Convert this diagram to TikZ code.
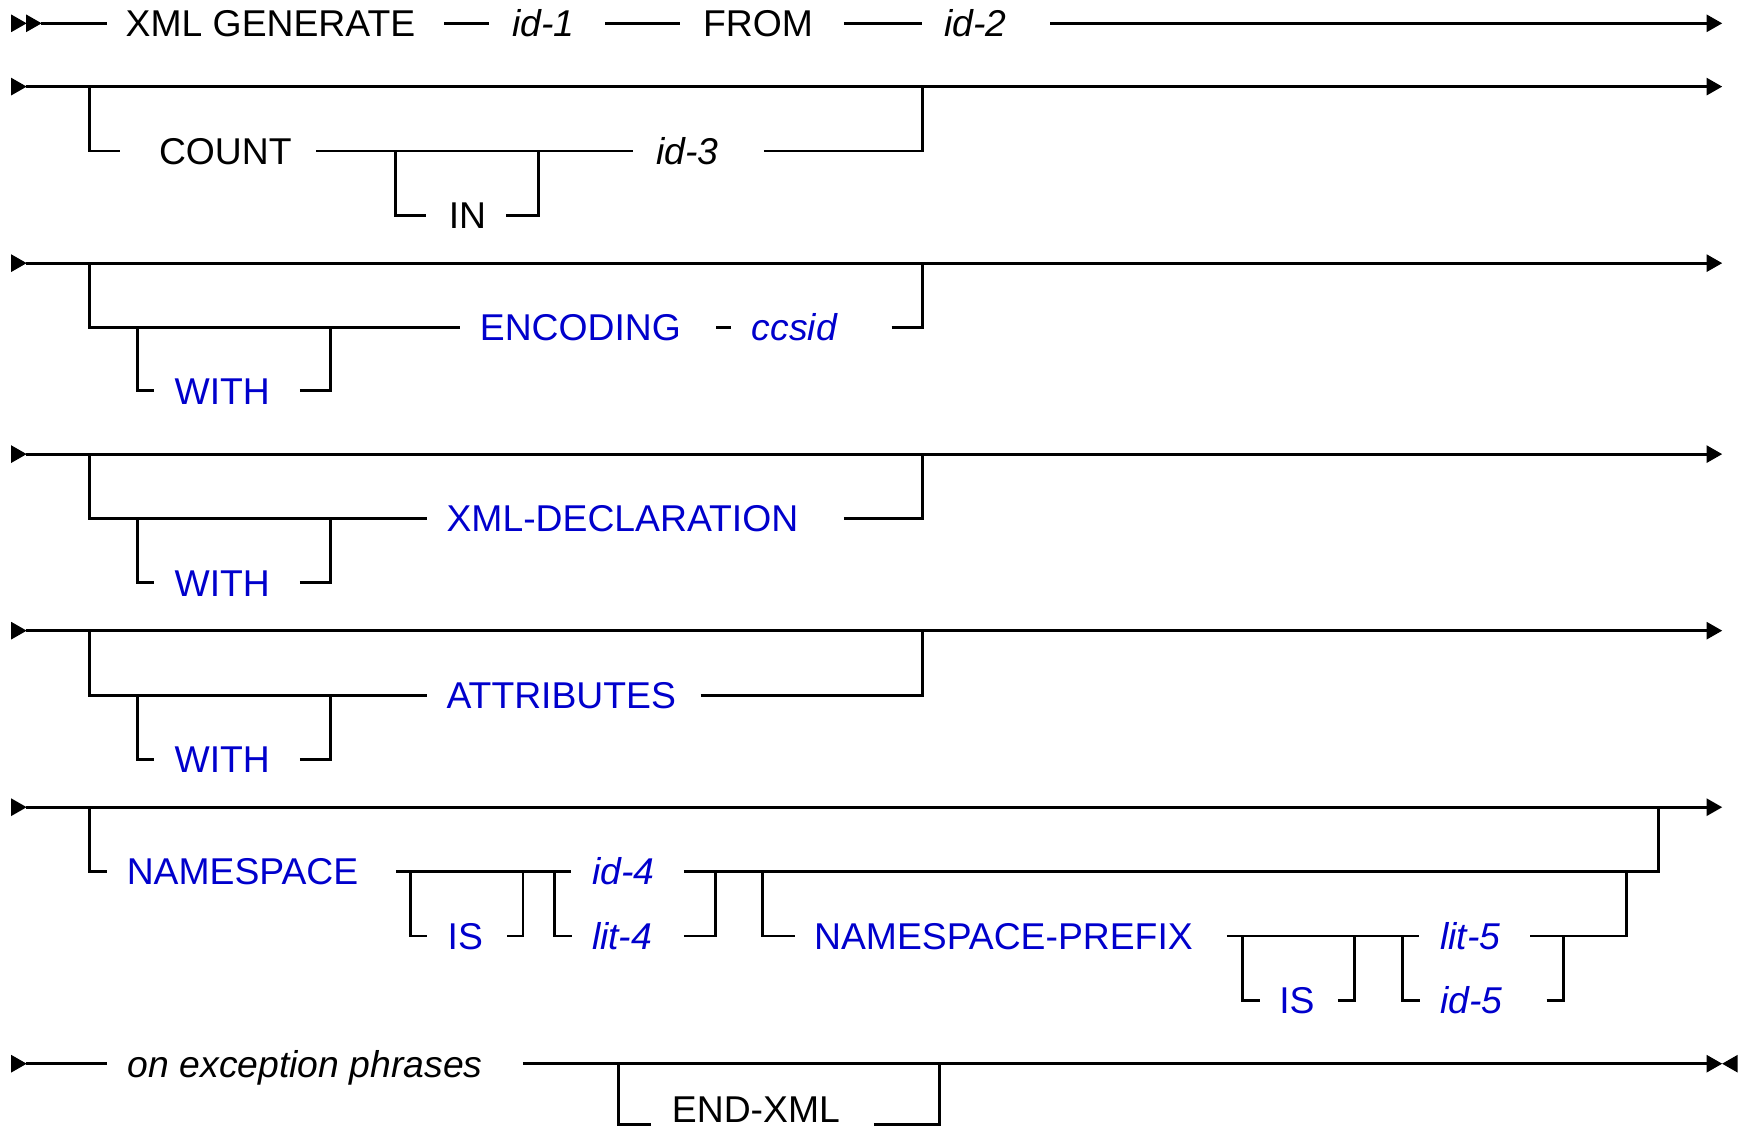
\documentclass[tikz,border=0pt]{standalone}
\usepackage{fontspec}
\setmainfont{Liberation Sans}
\definecolor{kwblue}{RGB}{0,0,204}
\begin{document}
\begin{tikzpicture}[x=1pt,y=-1pt,
  track/.style={line width=2.6pt,line join=miter},
  lbl/.style={anchor=west,inner sep=0pt,text height=24pt,text depth=0pt,font=\fontsize{33.6pt}{40pt}\selectfont},
  kw/.style={lbl},
  var/.style={lbl,font=\fontsize{33.6pt}{40pt}\selectfont\itshape},
  bkw/.style={kw,text=kwblue},
  bvar/.style={var,text=kwblue},
  headR/.pic={\fill (0,-8) -- (14,0) -- (0,8) -- cycle;},
  headL/.pic={\fill (14,-8) -- (0,0) -- (14,8) -- cycle;}]
\useasboundingbox (0,0) rectangle (1568,1016);

% ---------- Row 1 ----------
\pic at (10,21) {headR};
\pic at (23.5,21) {headR};
\node[kw] (xmlgen) at (113,21) {XML GENERATE};
\node[var] (id1) at (461,21) {id-1};
\node[kw] (from) at (633,21) {FROM};
\node[var] (id2) at (850,21) {id-2};
\draw[track] (37,21) -- (96,21);
\draw[track] (400,21) -- (440,21);
\draw[track] (545,21) -- (612,21);
\draw[track] (760,21) -- (830,21);
\draw[track] (946,21) -- (1538,21);
\pic at (1537,21) {headR};

% ---------- Row 2 ----------
\pic at (10,78) {headR};
\draw[track] (23,78) -- (1538,78);
\pic at (1537,78) {headR};
\draw[track] (81,78) -- (81,136) -- (108,136);
\node[kw] (count) at (143,136) {COUNT};
\draw[track] (285,136) -- (570,136);
\draw[track] (356,136) -- (356,194) -- (384,194);
\node[kw] (in) at (404,194) {IN};
\draw[track] (456,194) -- (485,194) -- (485,136);
\node[var] (id3) at (591,136) {id-3};
\draw[track] (688,136) -- (831,136) -- (831,78);

% ---------- Row 3 ----------
\pic at (10,237) {headR};
\draw[track] (23,237) -- (1538,237);
\pic at (1537,237) {headR};
\draw[track] (81,237) -- (81,295) -- (414,295);
\draw[track] (124,295) -- (124,352) -- (139,352);
\node[bkw] (with1) at (157,352) {WITH};
\draw[track] (270,352) -- (298,352) -- (298,295);
\node[bkw] (encoding) at (432,295) {ENCODING};
\draw[track] (645,295) -- (658,295);
\node[bvar] (ccsid) at (677,295) {ccsid};
\draw[track] (803,295) -- (831,295) -- (831,237);

% ---------- Row 4 ----------
\pic at (10,409) {headR};
\draw[track] (23,409) -- (1538,409);
\pic at (1537,409) {headR};
\draw[track] (81,409) -- (81,467) -- (385,467);
\draw[track] (124,467) -- (124,525) -- (139,525);
\node[bkw] (with2) at (157,525) {WITH};
\draw[track] (270,525) -- (298,525) -- (298,467);
\node[bkw] (xmldecl) at (402,467) {XML-DECLARATION};
\draw[track] (760,467) -- (831,467) -- (831,409);

% ---------- Row 5 ----------
\pic at (10,568) {headR};
\draw[track] (23,568) -- (1538,568);
\pic at (1537,568) {headR};
\draw[track] (81,568) -- (81,626) -- (385,626);
\draw[track] (124,626) -- (124,684) -- (139,684);
\node[bkw] (with3) at (157,684) {WITH};
\draw[track] (270,684) -- (298,684) -- (298,626);
\node[bkw] (attrs) at (402,626) {ATTRIBUTES};
\draw[track] (631,626) -- (831,626) -- (831,568);

% ---------- Row 6 ----------
\pic at (10,727) {headR};
\draw[track] (23,727) -- (1538,727);
\pic at (1537,727) {headR};
\draw[track] (81,727) -- (81,785) -- (96,785);
\node[bkw] (ns) at (114,785) {NAMESPACE};
\draw[track] (357,785) -- (514,785);
\draw[track] (370,785) -- (370,843) -- (385,843);
\node[bkw] (is1) at (403,843) {IS};
\draw[track] (457,843) -- (471,843) -- (471,785);
\draw[track] (499,785) -- (499,843) -- (515,843);
\node[bvar] (id4) at (533,785) {id-4};
\node[bvar] (lit4) at (533,843) {lit-4};
\draw[track] (616,785) -- (1494,785) -- (1494,727);
\draw[track] (616,843) -- (644,843) -- (644,785);
\draw[track] (687,785) -- (687,843) -- (716,843);
\node[bkw] (nsp) at (733,843) {NAMESPACE-PREFIX};
\draw[track] (1105,843) -- (1278,843);
\draw[track] (1119,843) -- (1119,901) -- (1135,901);
\node[bkw] (is2) at (1152,901) {IS};
\draw[track] (1205,901) -- (1220,901) -- (1220,843);
\draw[track] (1263,843) -- (1263,901) -- (1279,901);
\node[bvar] (lit5) at (1297,843) {lit-5};
\node[bvar] (id5) at (1297,901) {id-5};
\draw[track] (1378,843) -- (1465,843) -- (1465,785);
\draw[track] (1393,901) -- (1408,901) -- (1408,843);

% ---------- Row 7 ----------
\pic at (10,958) {headR};
\draw[track] (23,958) -- (96,958);
\node[var] (onexc) at (115,958) {on exception phrases};
\draw[track] (471,958) -- (1538,958);
\pic at (1537,958) {headR};
\pic at (1551,958) {headL};
\draw[track] (557,958) -- (557,1013) -- (586,1013);
\node[kw] (endxml) at (605,999) {END-XML};
\draw[track] (787,1013) -- (846,1013) -- (846,958);
\end{tikzpicture}
\end{document}
